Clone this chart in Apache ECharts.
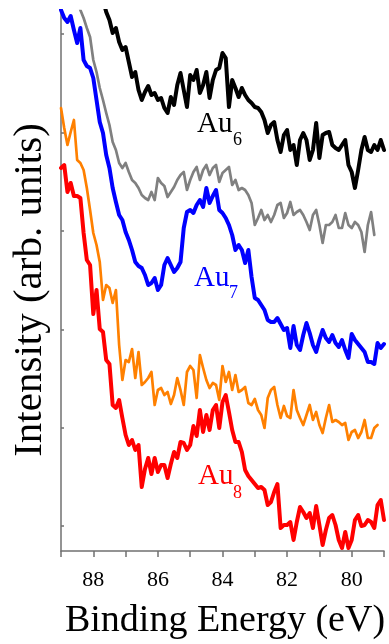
<!DOCTYPE html>
<html>
<head>
<meta charset="utf-8">
<script src="https://cdn.jsdelivr.net/npm/echarts@6/dist/echarts.min.js"></script>
<style>
html,body{margin:0;padding:0;background:#fff;}
#chart{width:389px;height:644px;}
</style>
</head>
<body>
<div id="chart"></div>
<script>
// Binding energy grid (eV)
const energy = [89.0,
  88.9,88.8,88.7,88.6,88.5,88.4,88.3,88.2,88.1,88.0,
  87.9,87.8,87.7,87.6,87.5,87.4,87.3,87.2,87.1,87.0,
  86.9,86.8,86.7,86.6,86.5,86.4,86.3,86.2,86.1,86.0,
  85.9,85.8,85.7,85.6,85.5,85.4,85.3,85.2,85.1,85.0,
  84.9,84.8,84.7,84.6,84.5,84.4,84.3,84.2,84.1,84.0,
  83.9,83.8,83.7,83.6,83.5,83.4,83.3,83.2,83.1,83.0,
  82.9,82.8,82.7,82.6,82.5,82.4,82.3,82.2,82.1,82.0,
  81.9,81.8,81.7,81.6,81.5,81.4,81.3,81.2,81.1,81.0,
  80.9,80.8,80.7,80.6,80.5,80.4,80.3,80.2,80.1,80.0,
  79.9,79.8,79.7,79.6,79.5,79.4,79.3,79.2,79.1,79.0];

// Intensities (arb. units, vertically offset spectra)
const au6 = [null,
  null,null,null,null,null,null,null,null,null,null,
  null,561,551,539,531,518,523,509,501,504,
  489,474,479,461,451,459,465,456,458,451,
  453,443,438,454,446,466,478,461,444,476,
  471,481,458,466,479,453,471,481,483,498,
  493,444,471,463,454,463,456,451,448,444,
  443,439,431,418,426,429,411,399,416,421,
  401,406,386,411,418,411,391,401,428,393,
  416,418,419,406,403,401,406,411,386,379,
  363,381,401,414,401,399,406,401,411,401];

const au6b = [null,
  null,null,null,null,555,541,533,523,514,491,
  479,463,451,438,426,409,401,388,383,388,
  379,371,368,363,356,353,351,359,351,373,
  368,365,354,359,364,371,376,379,361,371,
  379,384,371,381,386,376,383,386,369,378,
  381,384,366,371,361,363,361,356,348,326,
  333,341,331,336,329,336,346,348,333,338,
  349,336,339,341,336,329,321,336,341,326,
  308,326,326,329,336,323,323,338,326,323,
  329,326,319,299,326,339,316,null,null,null];

const au7 = [541,
  533,529,535,521,508,523,491,485,483,473,
  451,429,418,396,383,363,349,336,331,319,
  311,301,289,285,283,276,266,268,273,261,
  266,286,293,286,279,283,289,323,339,341,
  338,346,351,344,363,348,355,361,341,338,
  333,326,316,301,306,301,288,301,274,253,
  251,246,241,231,229,229,233,227,221,223,
  203,225,206,201,216,228,218,206,199,211,
  221,213,209,216,208,204,211,201,193,217,
  211,207,203,199,189,189,187,208,203,207];

const au7b = [443,
  423,406,419,431,391,388,381,363,341,318,
  306,289,251,266,263,248,261,206,171,191,
  189,202,173,199,166,169,173,179,146,161,
  163,156,159,147,156,173,161,146,179,185,
  181,153,196,183,171,163,168,166,151,185,
  169,179,161,176,159,161,164,148,146,152,
  141,136,123,153,161,164,146,133,145,135,
  133,161,141,133,126,136,146,131,139,126,
  118,133,146,129,131,129,126,128,111,119,
  121,113,119,131,113,113,123,126,null,null];

const au8 = [383,
  386,359,368,355,355,353,318,291,286,237,
  261,222,219,191,187,146,143,151,133,116,
  106,111,101,106,64,82,93,77,93,79,
  86,86,73,87,99,93,109,108,101,106,
  125,115,141,119,136,121,141,146,123,149,
  156,139,121,109,109,99,81,75,71,67,
  63,64,61,46,49,59,67,23,26,26,
  29,11,29,44,39,33,38,23,45,26,
  6,21,33,36,26,11,3,19,3,11,
  31,36,25,26,31,29,23,46,51,31];

const xTicks = [88, 86, 84, 82, 80];
const yTickValues = [25, 123, 221, 320, 418, 517];
const labels = [
  {main: 'Au', sub: '6', color: '#000000'},
  {main: 'Au', sub: '7', color: '#0000ff'},
  {main: 'Au', sub: '8', color: '#ff0000'}
];
const xTitle = 'Binding Energy (eV)';
const yTitle = 'Intensity (arb. units)';

function pairs(arr) {
  const out = [];
  arr.forEach((v, i) => { if (v !== null) out.push([energy[i], v]); });
  return out;
}

const SERIF = '"Liberation Serif", "DejaVu Serif", serif';
const chart = echarts.init(document.getElementById('chart'), null, {renderer: 'canvas'});

const labelPos = [
  {x: 197, y: 124, sx: 233, sy: 140},
  {x: 194, y: 278, sx: 229, sy: 293},
  {x: 198, y: 476, sx: 233, sy: 493}
];
const graphics = [];
labels.forEach((l, i) => {
  const p = labelPos[i];
  graphics.push({type: 'text', x: p.x, y: p.y, silent: true,
    style: {text: l.main, fill: l.color, font: '29px ' + SERIF, align: 'left', verticalAlign: 'middle', textAlign: 'left', textVerticalAlign: 'middle'}});
  graphics.push({type: 'text', x: p.sx, y: p.sy, silent: true,
    style: {text: l.sub, fill: l.color, font: '18px ' + SERIF, align: 'left', verticalAlign: 'middle', textAlign: 'left', textVerticalAlign: 'middle'}});
});
graphics.push({type: 'text', x: 225, y: 621, silent: true,
  style: {text: xTitle, fill: '#000', font: '38px ' + SERIF, align: 'center', verticalAlign: 'middle', textAlign: 'center', textVerticalAlign: 'middle'}});
graphics.push({type: 'text', x: 30, y: 290, rotation: Math.PI / 2, silent: true,
  style: {text: yTitle, fill: '#000', font: '41px ' + SERIF, align: 'center', verticalAlign: 'middle', textAlign: 'center', textVerticalAlign: 'middle'}});

function line(name, data, color, width, z) {
  return {name: name, type: 'line', data: pairs(data), showSymbol: false, symbol: 'none',
    clip: true, z: z, lineStyle: {color: color, width: width, join: 'round', cap: 'round'}};
}

chart.setOption({
  animation: false,
  backgroundColor: '#ffffff',
  grid: {left: 61, right: 5, top: 11, bottom: 93, containLabel: false},
  xAxis: {
    type: 'value', min: 79, max: 89, interval: 1, inverse: true,
    axisLine: {show: true, lineStyle: {color: '#707070', width: 1.5}},
    axisTick: {show: true, inside: false, length: 6, lineStyle: {color: '#707070', width: 1.5}},
    axisLabel: {show: true, margin: 18, fontFamily: SERIF, fontSize: 22, color: '#000',
      formatter: v => xTicks.indexOf(v) >= 0 ? String(v) : ''},
    splitLine: {show: false}
  },
  yAxis: {
    type: 'value', min: 0, max: 540,
    axisLine: {show: true, lineStyle: {color: '#707070', width: 1.5}},
    axisTick: {show: true, inside: true, length: 3, customValues: yTickValues, lineStyle: {color: '#707070', width: 1.5}},
    axisLabel: {show: false},
    splitLine: {show: false}
  },
  series: [
    line('Au6', au6, '#000000', 4, 2),
    line('Au6b', au6b, '#808080', 2.7, 2),
    line('Au7b', au7b, '#ff8000', 2.7, 2),
    line('Au7', au7, '#0000ff', 4, 3),
    line('Au8', au8, '#ff0000', 4, 3)
  ],
  graphic: graphics
});
</script>
</body>
</html>
